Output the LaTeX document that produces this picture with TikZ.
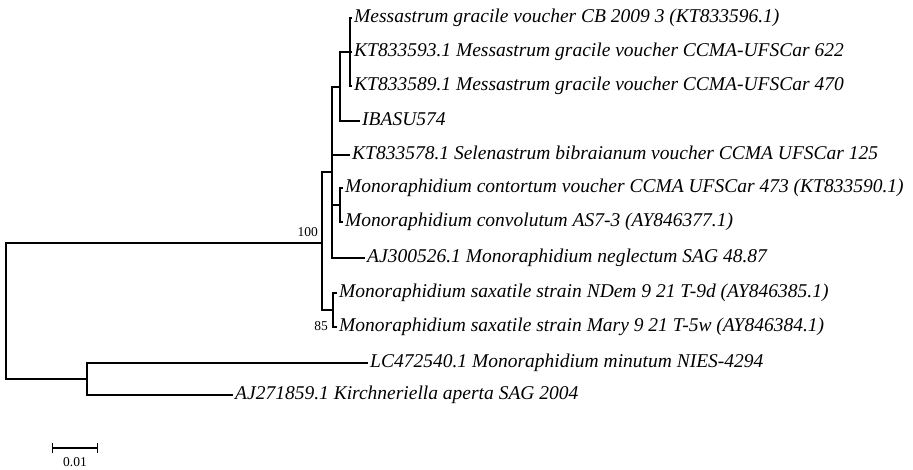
\documentclass[tikz,border=0pt]{standalone}
\usepackage{fontspec}
\setmainfont{Liberation Serif}
\usetikzlibrary{arrows.meta}
\newcommand{\leaffont}{\fontsize{19.5}{22}\selectfont\itshape}
\newcommand{\bootfont}{\fontsize{13.5}{15}\selectfont}
\tikzset{
  branch/.style={line width=1.4pt},
  leaf/.style={anchor=west, inner sep=2pt, text height=13pt, text depth=4.5pt, font=\leaffont},
  boot/.style={inner sep=1pt, font=\bootfont}
}
\begin{document}
\begin{tikzpicture}[x=1pt, y=-1pt]
\useasboundingbox (0,0) rectangle (913,470);
% internal nodes
\coordinate (root) at (6,311);
\coordinate (n100) at (322,243);
\coordinate (nsel) at (332,172);
\coordinate (nmes) at (340,87);
\coordinate (nmes2) at (350,52);
\coordinate (ncon) at (340,205);
\coordinate (nsax) at (333,310);
\coordinate (nout) at (87,379);
% leaves
\node[leaf] (m1) at (352,18) {Messastrum gracile voucher CB 2009 3 (KT833596.1)};
\node[leaf] (m2) at (352,52) {KT833593.1 Messastrum gracile voucher CCMA-UFSCar 622};
\node[leaf] (m3) at (352,86) {KT833589.1 Messastrum gracile voucher CCMA-UFSCar 470};
\node[leaf] (ibasu) at (360,121) {IBASU574};
\node[leaf] (sel) at (350,155) {KT833578.1 Selenastrum bibraianum voucher CCMA UFSCar 125};
\node[leaf] (mcont) at (343,188) {Monoraphidium contortum voucher CCMA UFSCar 473 (KT833590.1)};
\node[leaf] (mconv) at (343,222) {Monoraphidium convolutum AS7-3 (AY846377.1)};
\node[leaf] (mneg) at (365,258) {AJ300526.1 Monoraphidium neglectum SAG 48.87};
\node[leaf] (sax1) at (337,293) {Monoraphidium saxatile strain NDem 9 21 T-9d (AY846385.1)};
\node[leaf] (sax2) at (337,327) {Monoraphidium saxatile strain Mary 9 21 T-5w (AY846384.1)};
\node[leaf] (mmin) at (368,363) {LC472540.1 Monoraphidium minutum NIES-4294};
\node[leaf] (kirch) at (233,395) {AJ271859.1 Kirchneriella aperta SAG 2004};
% branches
\draw[branch] (root) |- (n100);
\draw[branch] (root) |- (nout);
\draw[branch] (n100) |- (nsel);
\draw[branch] (n100) |- (nsax);
\draw[branch] (nsel) |- (nmes);
\draw[branch] (nsel) |- (sel.west);
\draw[branch] (nsel) |- (ncon);
\draw[branch] (nsel) |- (mneg.west);
\draw[branch] (nmes) |- (nmes2);
\draw[branch] (nmes) |- (ibasu.west);
\draw[branch] (nmes2) |- (m1.west);
\draw[branch] (nmes2) |- (m2.west);
\draw[branch] (nmes2) |- (m3.west);
\draw[branch] (ncon) |- (mcont.west);
\draw[branch] (ncon) |- (mconv.west);
\draw[branch] (nsax) |- (sax1.west);
\draw[branch] (nsax) |- (sax2.west);
\draw[branch] (nout) |- (mmin.west);
\draw[branch] (nout) |- (kirch.west);
% bootstrap values
\node[boot, anchor=east] (b100) at (319,232) {100};
\node[boot, anchor=east] (b85) at (329,326) {85};
% scale bar
\coordinate (sbl) at (52,448);
\coordinate (sbr) at (98,448);
\draw[branch, {Bar[width=10pt]}-{Bar[width=10pt]}] (sbl) -- (sbr);
\node[boot] (sblab) at (75,462) {0.01};
\end{tikzpicture}
\end{document}
